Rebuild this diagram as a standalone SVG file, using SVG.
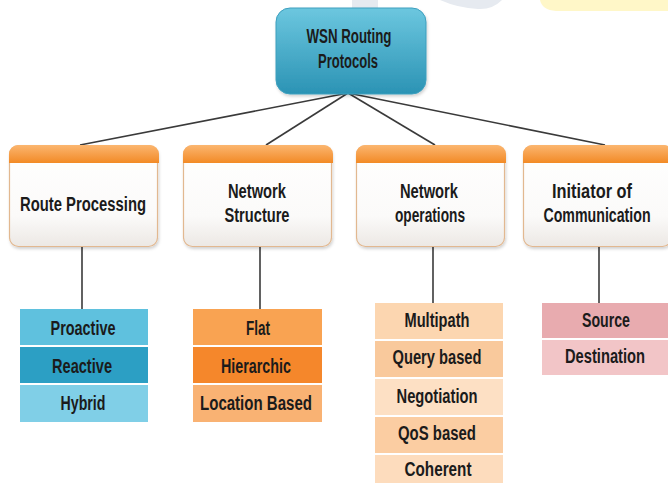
<svg xmlns="http://www.w3.org/2000/svg" width="668" height="483" viewBox="0 0 668 483">
  <defs>
    <linearGradient id="rootFill" x1="0" y1="0" x2="0" y2="1">
      <stop offset="0" stop-color="#6cc7df"/>
      <stop offset="1" stop-color="#2b93b4"/>
    </linearGradient>
    <linearGradient id="headFill" x1="0" y1="0" x2="0" y2="1">
      <stop offset="0" stop-color="#fbb670"/>
      <stop offset="1" stop-color="#f28a26"/>
    </linearGradient>
    <linearGradient id="bodyFill" x1="0" y1="0" x2="0" y2="1">
      <stop offset="0" stop-color="#ffffff"/>
      <stop offset="0.7" stop-color="#fbfaf9"/>
      <stop offset="1" stop-color="#ece8e4"/>
    </linearGradient>
    <filter id="shadow" x="-10%" y="-10%" width="125%" height="130%">
      <feDropShadow dx="1" dy="2" stdDeviation="1.5" flood-color="#000" flood-opacity="0.18"/>
    </filter>
    <clipPath id="catClip">
      <rect x="0" y="0" width="150" height="102" rx="9"/>
    </clipPath>
  </defs>
  <style>
    .t { font-family: "Liberation Sans", Arial, sans-serif; font-weight: bold; font-size: 20px; fill: #1b1b1b; text-anchor: middle; }
    .conn { stroke: #3a3a3a; stroke-width: 1.6; fill: none; }
    .catBody { fill: url(#bodyFill); stroke: #e2b890; stroke-width: 1.2; }
    .catHead { fill: url(#headFill); }
  </style>

  <rect width="668" height="483" fill="#ffffff"/>

  <!-- faint marks along the top edge -->
  <g id="topMarks">
    <path d="M352 0 H378 V9 H352 Z" fill="#e6eaf0"/>
    <path d="M440 0 H502 Q492 10 478 9 Q458 8 440 0 Z" fill="#e6eaf0"/>
    <path d="M540 0 H668 V11 H556 Q542 10 540 0 Z" fill="#fff7c8"/>
  </g>

  <!-- connectors -->
  <g id="connectors">
    <line class="conn" x1="348" y1="93" x2="80" y2="145"/>
    <line class="conn" x1="348" y1="93" x2="266" y2="145"/>
    <line class="conn" x1="348" y1="93" x2="435" y2="145"/>
    <line class="conn" x1="348" y1="93" x2="605" y2="145"/>
    <line class="conn" x1="82" y1="247" x2="82" y2="309"/>
    <line class="conn" x1="260" y1="247" x2="260" y2="309"/>
    <line class="conn" x1="433" y1="247" x2="433" y2="303"/>
    <line class="conn" x1="599" y1="247" x2="599" y2="303"/>
  </g>

  <!-- root -->
  <g id="root">
    <rect x="276" y="8" width="150" height="86" rx="14" fill="url(#rootFill)" stroke="#3d9fbe" stroke-width="1" filter="url(#shadow)"/>
    <text class="t" x="349" y="43" textLength="85" lengthAdjust="spacingAndGlyphs">WSN Routing</text>
    <text class="t" x="348" y="68" textLength="60" lengthAdjust="spacingAndGlyphs">Protocols</text>
  </g>

  <!-- category boxes -->
  <g id="routeProcessing" transform="translate(9,145)">
    <rect class="catBody" x="0.5" y="0.5" width="148" height="101" rx="9" filter="url(#shadow)"/>
    <rect class="catHead" x="0" y="0" width="150" height="18" clip-path="url(#catClip)"/>
    <text class="t" x="74" y="66" textLength="126" lengthAdjust="spacingAndGlyphs">Route Processing</text>
  </g>

  <g id="networkStructure" transform="translate(183,145)">
    <rect class="catBody" x="0.5" y="0.5" width="148" height="101" rx="9" filter="url(#shadow)"/>
    <rect class="catHead" x="0" y="0" width="150" height="18" clip-path="url(#catClip)"/>
    <text class="t" x="74" y="53" textLength="58" lengthAdjust="spacingAndGlyphs">Network</text>
    <text class="t" x="74" y="77" textLength="65" lengthAdjust="spacingAndGlyphs">Structure</text>
  </g>

  <g id="networkOperations" transform="translate(356,145)">
    <rect class="catBody" x="0.5" y="0.5" width="148" height="101" rx="9" filter="url(#shadow)"/>
    <rect class="catHead" x="0" y="0" width="150" height="18" clip-path="url(#catClip)"/>
    <text class="t" x="73" y="53" textLength="58" lengthAdjust="spacingAndGlyphs">Network</text>
    <text class="t" x="74" y="77" textLength="70" lengthAdjust="spacingAndGlyphs">operations</text>
  </g>

  <g id="initiator" transform="translate(523,145)">
    <rect class="catBody" x="0.5" y="0.5" width="148" height="101" rx="9" filter="url(#shadow)"/>
    <rect class="catHead" x="0" y="0" width="150" height="18" clip-path="url(#catClip)"/>
    <text class="t" x="69" y="53" textLength="80" lengthAdjust="spacingAndGlyphs">Initiator of</text>
    <text class="t" transform="translate(74,77) scale(0.8,1)" x="0" y="0" textLength="134" lengthAdjust="spacingAndGlyphs">Communication</text>
  </g>

  <!-- route processing types -->
  <g id="routeTypes">
    <rect x="20" y="309" width="128" height="36" fill="#5fc1de"/>
    <rect x="20" y="347" width="128" height="36" fill="#2c9fc4"/>
    <rect x="20" y="385" width="128" height="37" fill="#80cfe7"/>
    <text class="t" x="83" y="335" textLength="65" lengthAdjust="spacingAndGlyphs">Proactive</text>
    <text class="t" x="82" y="373" textLength="60" lengthAdjust="spacingAndGlyphs">Reactive</text>
    <text class="t" x="83" y="410" textLength="45" lengthAdjust="spacingAndGlyphs">Hybrid</text>
  </g>

  <!-- network structure types -->
  <g id="structureTypes">
    <rect x="193" y="309" width="129" height="36" fill="#f9a352"/>
    <rect x="193" y="347" width="129" height="36" fill="#f5872b"/>
    <rect x="193" y="385" width="129" height="37" fill="#f9b273"/>
    <text class="t" x="258" y="335" textLength="24" lengthAdjust="spacingAndGlyphs">Flat</text>
    <text class="t" x="256" y="373" textLength="70" lengthAdjust="spacingAndGlyphs">Hierarchic</text>
    <text class="t" x="256" y="410" textLength="112" lengthAdjust="spacingAndGlyphs">Location Based</text>
  </g>

  <!-- network operation types -->
  <g id="operationTypes">
    <rect x="375" y="303" width="128" height="36" fill="#fcd6b0"/>
    <rect x="375" y="341" width="128" height="36" fill="#f9c99c"/>
    <rect x="375" y="379" width="128" height="36" fill="#fde0c4"/>
    <rect x="375" y="417" width="128" height="36" fill="#fbcda2"/>
    <rect x="375" y="455" width="128" height="28" fill="#fddcbd"/>
    <text class="t" x="437" y="327" textLength="65" lengthAdjust="spacingAndGlyphs">Multipath</text>
    <text class="t" x="437" y="364" textLength="89" lengthAdjust="spacingAndGlyphs">Query based</text>
    <text class="t" x="437" y="403" textLength="81" lengthAdjust="spacingAndGlyphs">Negotiation</text>
    <text class="t" x="437" y="440" textLength="78" lengthAdjust="spacingAndGlyphs">QoS based</text>
    <text class="t" x="438" y="476" textLength="67" lengthAdjust="spacingAndGlyphs">Coherent</text>
  </g>

  <!-- initiator types -->
  <g id="initiatorTypes">
    <rect x="542" y="303" width="130" height="35" fill="#e8abaf"/>
    <rect x="542" y="340" width="130" height="35" fill="#f2c5c7"/>
    <text class="t" x="606" y="327" textLength="48" lengthAdjust="spacingAndGlyphs">Source</text>
    <text class="t" transform="translate(605,363) scale(0.8,1)" x="0" y="0" textLength="100" lengthAdjust="spacingAndGlyphs">Destination</text>
  </g>
</svg>
